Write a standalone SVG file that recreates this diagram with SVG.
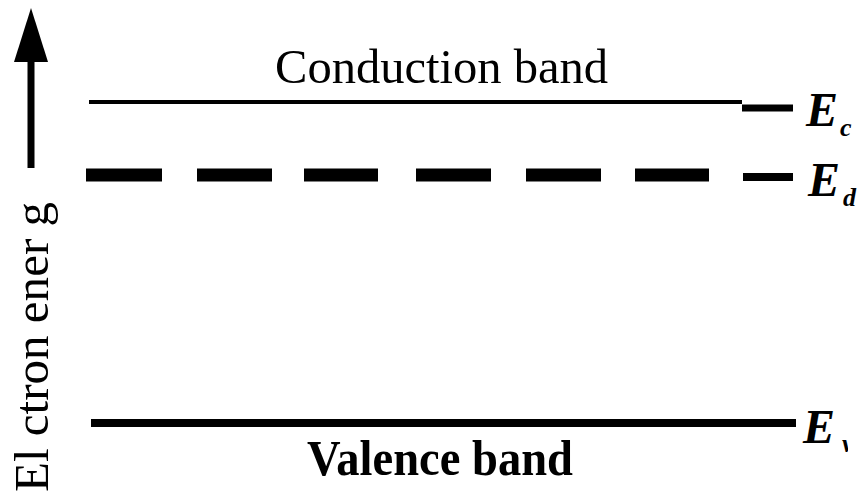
<svg xmlns="http://www.w3.org/2000/svg" width="864" height="502" viewBox="0 0 864 502">
<style>
.lbl{font-family:"Liberation Serif","Times New Roman",serif;fill:#000}
.e{font-family:"Liberation Serif","Times New Roman",serif;font-style:italic;font-weight:bold;font-size:48px;fill:#000}
.sub{font-family:"Liberation Serif","Times New Roman",serif;font-style:italic;font-weight:bold;font-size:26px;fill:#000}
</style>
<defs>
<clipPath id="edge"><rect x="0" y="0" width="848" height="502"/></clipPath>
</defs>
<rect width="864" height="502" fill="#fff"/>
<g id="axis">
<polygon points="31,8 14,62 48,62" fill="#000"/>
<rect x="27.5" y="60" width="7" height="108" fill="#000"/>
<text class="lbl" transform="translate(48,492) rotate(-90)" font-size="48" textLength="290" lengthAdjust="spacingAndGlyphs">El ctron ener g</text>
</g>
<g id="conduction">
<line x1="89" y1="102" x2="742" y2="102" stroke="#000" stroke-width="4"/>
<line x1="742" y1="108" x2="793" y2="108" stroke="#000" stroke-width="7"/>
<text class="lbl" x="275" y="83" font-size="48" textLength="333" lengthAdjust="spacingAndGlyphs">Conduction band</text>
<text class="e" x="806" y="126">E</text>
<text class="sub" x="840" y="136">c</text>
</g>
<g id="donor">
<line x1="86" y1="175" x2="710" y2="175" stroke="#000" stroke-width="13" stroke-dasharray="76 35 75 32 74 38 75 35 75 34 74"/>
<line x1="743" y1="177" x2="793" y2="177" stroke="#000" stroke-width="8"/>
<text class="e" x="808" y="196">E</text>
<text class="sub" x="843" y="206">d</text>
</g>
<g id="valence">
<line x1="91" y1="423" x2="796" y2="423" stroke="#000" stroke-width="8"/>
<text class="lbl" x="307" y="475" font-size="50" font-weight="bold" textLength="266" lengthAdjust="spacingAndGlyphs">Valence band</text>
<text class="e" x="803" y="443">E</text>
<text class="sub" x="842" y="452" clip-path="url(#edge)">v</text>
</g>
</svg>
